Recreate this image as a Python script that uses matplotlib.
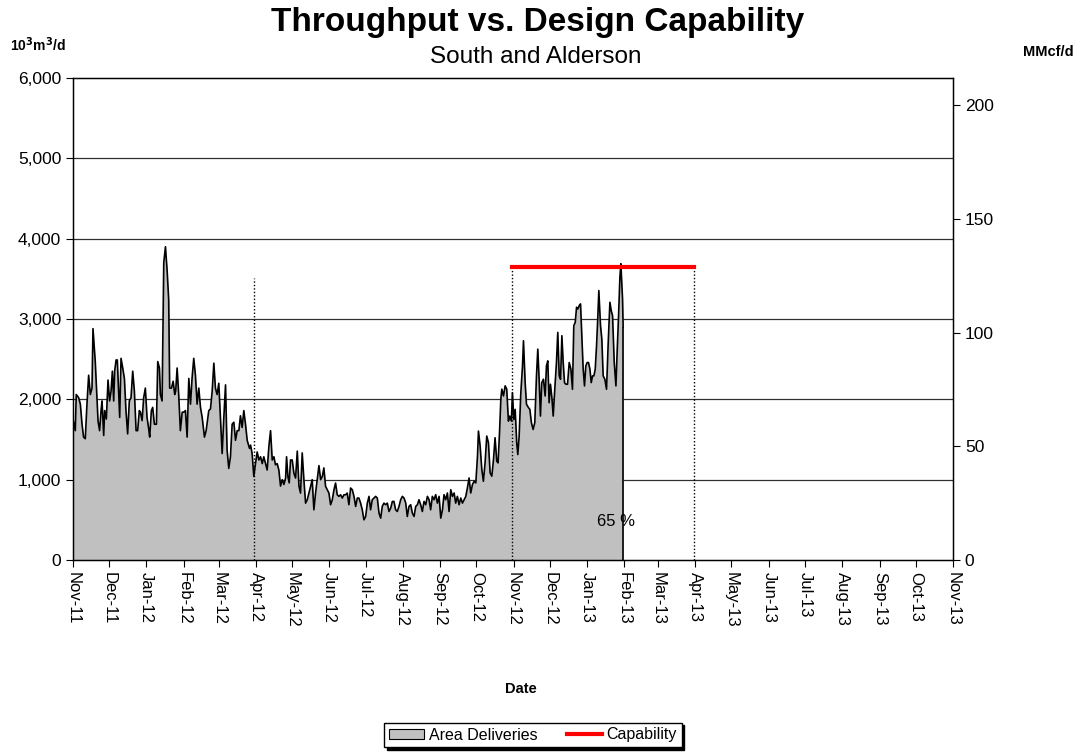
import matplotlib
matplotlib.use("Agg")
import matplotlib.pyplot as plt
import matplotlib.dates as mdates
import matplotlib.ticker as mticker
import pandas as pd

plt.rcParams['font.family'] = ['Liberation Sans', 'DejaVu Sans']

# days since 2011-11-01 and daily area deliveries (10^3 m3/d)
day = [0, 1.9, 2.7, 4.7, 6.1, 7.5, 8.8, 10.2, 11.6, 13.0, 14.4, 15.8, 16.6, 18.5, 20.0, 20.8,
       22.1, 23.3, 24.1, 25.5, 26.3, 27.7, 29.1, 30.4, 31.6, 32.7, 33.8, 34.6, 35.8, 36.8,
       37.9, 38.8, 39.9, 41.3, 42.7, 44.0, 45.4, 46.8, 48.2, 49.6, 51.0, 52.4, 53.7, 55.1,
       56.0, 57.4, 58.7, 60.1, 61.5, 62.9, 63.7, 65.1, 66.2, 67.6, 69.3, 70.4, 71.8, 72.6,
       74.0, 75.4, 76.8, 78.2, 79.5, 80.3, 81.8, 83.2, 84.5, 85.3, 86.5, 87.8, 89.2, 90.7,
       92.0, 93.4,
       94.8, 96.2, 97.6, 98.9, 100.3, 101.7, 103.1, 104.5, 105.9, 107.3, 109.2, 110.6, 112.8,
       114.2, 115.6, 117.0, 118.3, 119.7, 121.1, 122.5, 123.9, 125.3, 126.7, 128.0, 129.4,
       130.8, 132.2, 133.6, 135.0, 136.4, 137.8, 139.1, 140.5, 141.9, 143.3, 144.7, 146.6,
       147.5, 148.8, 150.2, 151.6, 153.0, 154.4, 155.8, 157.2, 158.5, 159.9, 161.3, 162.7,
       164.1, 165.5, 166.9, 168.2, 169.6, 171.0, 172.4, 173.8, 175.2, 176.6, 177.4, 178.5,
       179.6, 180.7, 182.1, 183.5,
       184.9, 186.3, 187.7, 189.0, 190.4, 191.8, 193.2, 194.6, 196.0, 197.4, 198.7, 200.1,
       201.5, 202.9, 204.3, 205.7, 207.1, 208.4, 209.8, 211.2, 212.6, 214.0, 215.4, 216.8,
       218.1, 219.5, 220.9, 222.3, 223.7, 225.1, 226.5, 227.8, 229.2, 230.6, 232.0, 233.4,
       234.8, 236.2, 237.5, 238.9, 240.3, 241.7, 243.1, 244.5, 245.9, 247.2, 248.6, 250.0,
       251.4, 252.8, 254.2, 255.6, 256.9, 258.3, 259.7, 261.1, 262.5, 263.9, 265.3, 266.6,
       268.0, 269.4, 270.8, 272.2, 273.6, 275.0, 276.4,
       277.7, 279.1, 280.5, 281.9, 283.3, 284.7, 286.1, 287.4, 288.8, 290.2, 291.6, 293.0,
       294.4, 295.8, 297.1, 298.5, 299.9, 301.3, 302.7, 304.1, 305.5, 306.9, 308.2, 309.6,
       311.0, 312.4, 313.8, 315.2, 316.6, 317.9, 319.3, 320.7, 322.1, 323.5, 324.9, 326.3,
       327.6, 329.0, 330.4, 331.8, 333.2, 334.6, 336.0, 336.8, 338.2, 339.6, 340.9, 342.3,
       343.7, 345.1, 346.5, 347.9, 349.3, 350.6, 352.0, 353.1, 354.3, 355.4, 356.2, 357.6,
       359.0,
       360.3, 361.7, 362.8, 364.2, 365.0, 366.2, 367.3, 368.6, 369.5, 370.6, 372.0, 373.4,
       374.2, 375.6, 376.7, 378.4, 379.5, 380.8, 382.2, 383.6, 385.0, 386.1, 387.2, 388.3,
       389.4, 390.8, 392.2, 393.3, 394.4, 395.5, 396.6, 397.8, 398.9, 400.2, 401.6, 402.7,
       403.9, 405.0, 406.1, 407.2, 408.3, 409.4, 410.8, 412.2, 413.6, 414.9, 416.0, 417.2,
       418.3, 419.4, 420.5, 421.6, 422.7, 423.8, 424.9, 426.0, 427.1, 428.2, 429.4, 430.5,
       431.6, 432.7, 433.8, 434.9, 436.0, 436.8, 438.2, 439.3, 440.4, 441.8, 443.2, 444.6,
       446.0, 447.1, 448.2, 449.6, 451.0, 452.1, 453.2, 454.3, 455.1, 456.5, 457.0]

vol = [1755, 1610, 2060, 2020, 1940, 1690, 1530, 1510, 1940, 2300, 2060, 2140, 2880, 2470, 1980, 1730,
       1610, 1860, 1980, 1550, 1860, 1755, 2240, 1980, 2100, 2350, 1980, 2350, 2490, 2490,
       2100, 1775, 2510, 2390, 2260, 1860, 1570, 1980, 2020, 2350, 2100, 1610, 1610, 1860,
       1840, 1735, 2020, 2140, 1775, 1630, 1530, 1860, 1900, 1690, 1690, 2470, 2390, 2060,
       1980, 3700, 3900, 3600, 3240, 2140, 2140, 2225, 2060, 2100, 2390, 2060, 1610, 1840,
       1840, 1860,
       1530, 2260, 1940, 2260, 2510, 2300, 1940, 2140, 1900, 1775, 1530, 1610, 1860,
       1880, 2100, 2450, 2140, 2060, 2200, 1775, 1325, 1775, 2180, 1370, 1140,
       1285, 1690, 1715, 1490, 1610, 1610, 1795, 1650, 1860, 1690, 1490, 1390,
       1430, 1325, 1040, 1200, 1345, 1245, 1285, 1200, 1285, 1200, 1120, 1410,
       1610, 1245, 1285, 1185, 1200, 1120, 920, 1000, 940, 1020, 1285, 1040,
       960, 1245, 1245, 1080,
       1020, 1355, 920, 833, 1333, 1000, 708, 750, 833, 917, 1000, 625,
       833, 1000, 1175, 1000, 1040, 1146, 917, 875, 833, 688, 750, 875,
       958, 812, 792, 812, 771, 812, 812, 833, 688, 896, 875, 792,
       667, 771, 771, 708, 625, 500, 542, 708, 792, 625, 750, 771,
       792, 771, 583, 521, 667, 708, 688, 708, 604, 646, 729, 729,
       625, 604, 667, 750, 792, 771, 708,
       542, 667, 688, 583, 542, 667, 688, 750, 688, 604, 729, 688,
       792, 750, 625, 792, 750, 813, 708, 792, 521, 625, 813, 750,
       834, 604, 875, 792, 834, 708, 792, 688, 771, 708, 750, 792,
       896, 1021, 834, 938, 980, 960, 1293, 1605, 1418, 1126, 980, 1209,
       1543, 1460, 1084, 1043, 1251, 1522, 1230, 1209, 1585, 2002, 2127, 2043,
       2168,
       2125, 1729, 1792, 1729, 2083, 1750, 1875, 1458, 1313, 1542, 2083, 2417,
       2729, 2208, 1938, 1896, 1875, 1709, 1625, 1709, 2292, 2625, 2250, 1792,
       2208, 2250, 2042, 2417, 2479, 1958, 2188, 2021, 1792, 2125, 2458, 2833,
       2292, 2250, 2792, 2458, 2208, 2188, 2188, 2458, 2375, 2125, 2917, 2958,
       3146, 3125, 3167, 3188, 2792, 2375, 2167, 2417, 2458, 2458, 2375, 2208,
       2292, 2292, 2375, 2667, 3042, 3354, 2917, 2750, 2292, 2250, 2125, 2708,
       3208, 3104, 3042, 2458, 2167, 2625, 3042, 3521, 3688, 3250, 2900]

# design capability over the 2012/13 winter
cap_start, cap_end, capability = '2012-10-31', '2013-03-31', 3650
# dotted season markers (date, height)
marker_dates = ['2012-03-30', '2012-10-31', '2013-03-31']
marker_tops = [3510, 3650, 3650]
pct_label = '65 %'
M3_PER_MCF = 28.317

start = pd.Timestamp('2011-11-01')
dates = start + pd.to_timedelta(day, unit='D')

fig = plt.figure(figsize=(10.81, 7.53), dpi=100)
ax = fig.add_axes([73 / 1081, 1 - 560 / 753, 880 / 1081, 482 / 753])

ax.set_ylim(0, 6000)
ax.set_xlim(start, pd.Timestamp('2013-11-01'))
ax.set_yticks(range(0, 6001, 1000))
ax.yaxis.set_major_formatter(mticker.StrMethodFormatter('{x:,.0f}'))
for yv in range(1000, 6000, 1000):
    ax.axhline(yv, color='#303030', lw=0.9, zorder=1)

ax.fill_between(dates, vol, 0, color='#c0c0c0', lw=0, zorder=2)
ax.plot(dates, vol, color='black', lw=1.2, zorder=3)
ax.vlines([dates[-1]], 0, vol[-1], color='black', lw=1.2, zorder=3)

for d, top in zip(marker_dates, marker_tops):
    ax.vlines(pd.Timestamp(d), 0, top, color='black', lw=1, linestyles=(0, (1, 1.5)), zorder=4)
ax.plot([pd.Timestamp(cap_start), pd.Timestamp(cap_end)], [capability, capability],
        color='red', lw=3, zorder=5)

ax.text(pd.Timestamp('2013-01-25'), 480, pct_label, ha='center', va='center', fontsize=12, zorder=6)

ax.xaxis.set_major_locator(mdates.MonthLocator())
ax.xaxis.set_major_formatter(mdates.DateFormatter('%b-%y'))
plt.setp(ax.get_xticklabels(), rotation=270, ha='center', va='top', fontsize=12)
ax.tick_params(axis='y', labelsize=12.5, length=5, direction='out')
ax.tick_params(axis='x', length=5, direction='out')
for s in ax.spines.values():
    s.set_color('black')
    s.set_linewidth(1)

ax2 = ax.twinx()
ax2.set_ylim(0, 6000 / M3_PER_MCF)
ax2.set_yticks([0, 50, 100, 150, 200])
ax2.tick_params(axis='y', labelsize=12.5, length=5, direction='out')
ax2.spines['right'].set_color('black')

fig.text(538 / 1081, 1 - 23 / 753, 'Throughput vs. Design Capability', ha='center', va='center',
         fontsize=24, fontweight='bold')
fig.text(536 / 1081, 1 - 57 / 753, 'South and Alderson', ha='center', va='center', fontsize=17.5)
fig.text(10 / 1081, 1 - 45 / 753, r'10$^\mathbf{3}$m$^\mathbf{3}$/d', ha='left', va='center',
         fontsize=10, fontweight='bold')
fig.text(1048 / 1081, 1 - 52 / 753, 'MMcf/d', ha='center', va='center', fontsize=10.5, fontweight='bold')
fig.text(521 / 1081, 1 - 689 / 753, 'Date', ha='center', va='center', fontsize=10.5, fontweight='bold')

h1 = plt.Rectangle((0, 0), 1, 1, facecolor='#c0c0c0', edgecolor='black', lw=0.8)
h2 = plt.Line2D([], [], color='red', lw=3)
fig.legend([h1, h2], ['Area Deliveries', 'Capability'], loc='center', ncol=2,
           bbox_to_anchor=(533 / 1081, 1 - 735 / 753), fontsize=11.5, frameon=True,
           fancybox=False, edgecolor='black', framealpha=1,
           shadow={'color': 'black', 'alpha': 1}, handlelength=2.2, handleheight=0.6,
           handletextpad=0.3, columnspacing=1.8, borderpad=0.3)

fig.savefig('out.png', dpi=100)
